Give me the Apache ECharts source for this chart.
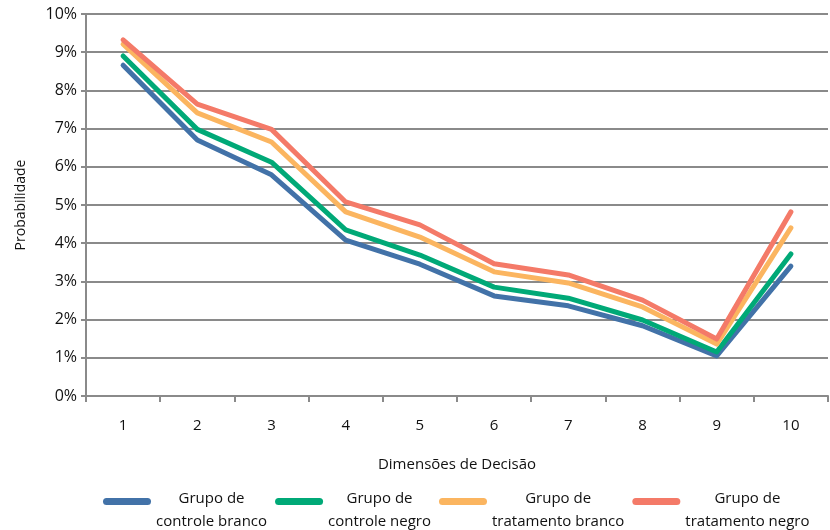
<!DOCTYPE html>
<html>
<head>
<meta charset="utf-8">
<script src="https://cdn.jsdelivr.net/npm/echarts@6/dist/echarts.min.js"></script>
<style>html,body{margin:0;padding:0;background:#fff}#c{width:830px;height:530px}</style>
</head>
<body>
<div id="c"></div>
<script>
const categories = ['1','2','3','4','5','6','7','8','9','10'];
const seriesNames = ['Grupo de\ncontrole branco','Grupo de\ncontrole negro','Grupo de\ntratamento branco','Grupo de\ntratamento negro'];
const controleBranco = [8.66, 6.70, 5.79, 4.08, 3.45, 2.62, 2.36, 1.84, 1.05, 3.40];
const controleNegro = [8.90, 6.98, 6.12, 4.35, 3.69, 2.85, 2.56, 1.99, 1.15, 3.72];
const tratamentoBranco = [9.21, 7.41, 6.65, 4.82, 4.16, 3.25, 2.96, 2.33, 1.36, 4.40];
const tratamentoNegro = [9.32, 7.64, 6.98, 5.08, 4.48, 3.46, 3.17, 2.51, 1.49, 4.82];
const colors = ['#4272a8', '#00a977', '#fbb560', '#f47a68'];
const yTicks = [0, 1, 2, 3, 4, 5, 6, 7, 8, 9, 10];

const chart = echarts.init(document.getElementById('c'));
const allData = [controleBranco, controleNegro, tratamentoBranco, tratamentoNegro];
const font = "'Open Sans', sans-serif";
chart.setOption({
  animation: false,
  backgroundColor: '#fff',
  grid: { left: 86, right: 2, top: 14, bottom: 134 },
  xAxis: {
    type: 'category',
    data: categories,
    boundaryGap: true,
    name: 'Dimensões de Decisão',
    nameLocation: 'middle',
    nameGap: 61,
    nameTextStyle: { fontFamily: font, fontSize: 15, color: '#111' },
    axisLine: { lineStyle: { color: '#8a8a8a', width: 2 } },
    axisTick: { show: true, length: 6, lineStyle: { color: '#8a8a8a', width: 2 } },
    axisLabel: { fontFamily: font, fontSize: 15, color: '#111', margin: 22 }
  },
  yAxis: {
    type: 'value',
    min: yTicks[0], max: yTicks[yTicks.length - 1], interval: 1,
    name: 'Probabilidade',
    nameLocation: 'middle',
    nameGap: 58,
    nameTextStyle: { fontFamily: font, fontSize: 14, color: '#111' },
    axisLine: { show: true, lineStyle: { color: '#8a8a8a', width: 2 } },
    axisTick: { show: true, length: 5, lineStyle: { color: '#8a8a8a', width: 2 } },
    splitLine: { lineStyle: { color: '#8a8a8a', width: 2 } },
    axisLabel: { fontFamily: font, fontSize: 16, color: '#111', margin: 9, formatter: v => v + '%' }
  },
  legend: {
    left: 98, top: 486,
    itemWidth: 48, itemHeight: 7, itemGap: 8,
    icon: 'path://M3.5,0 L44.5,0 A3.5,3.5 0 0 1 44.5,7 L3.5,7 A3.5,3.5 0 0 1 3.5,0 Z',
    formatter: n => n.split('\n').map(s => '{a|' + s + '}').join('\n'),
    textStyle: {
      fontFamily: font, fontSize: 15, color: '#111',
      padding: [17, 0, 0, 0],
      rich: { a: { fontFamily: font, fontSize: 15, color: '#111', lineHeight: 23, align: 'center' } }
    },
    data: seriesNames
  },
  series: seriesNames.map((n, i) => ({
    name: n,
    type: 'line',
    data: allData[i],
    showSymbol: false,
    symbol: 'none',
    color: colors[i],
    lineStyle: { width: 5, color: colors[i], cap: 'round', join: 'round' }
  }))
});
</script>
</body>
</html>
